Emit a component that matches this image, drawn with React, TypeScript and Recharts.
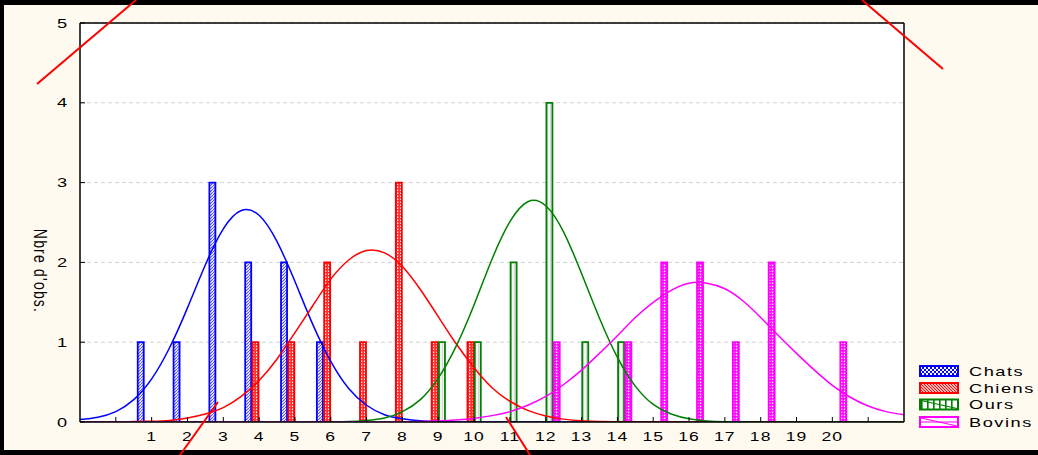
import React from "react";
import { Bar, CartesianGrid, ComposedChart, Legend, Line, XAxis, YAxis } from "recharts";

const FONT = "'Liberation Sans', Arial, Helvetica, sans-serif";

// histogram bins (x = 1..20)
const binX = [1, 2, 3, 4, 5, 6, 7, 8, 9, 10, 11, 12, 13, 14, 15, 16, 17, 18, 19, 20];
const chats = [1, 1, 3, 2, 2, 1, 0, 0, 0, 0, 0, 0, 0, 0, 0, 0, 0, 0, 0, 0];
const chiens = [0, 0, 0, 1, 1, 2, 1, 3, 1, 1, 0, 0, 0, 0, 0, 0, 0, 0, 0, 0];
const ours = [0, 0, 0, 0, 0, 0, 0, 0, 1, 1, 2, 4, 1, 1, 0, 0, 0, 0, 0, 0];
const bovins = [0, 0, 0, 0, 0, 0, 0, 0, 0, 0, 0, 1, 0, 1, 2, 2, 1, 2, 0, 1];

// fitted curves, every half unit from -1 to 22
const curveX = [
  -1, -0.5, 0, 0.5, 1, 1.5, 2, 2.5, 3, 3.5, 4, 4.5, 5, 5.5, 6, 6.5, 7, 7.5, 8, 8.5, 9, 9.5, 10, 10.5,
  11, 11.5, 12, 12.5, 13, 13.5, 14, 14.5, 15, 15.5, 16, 16.5, 17, 17.5, 18, 18.5, 19, 19.5, 20, 20.5,
  21, 21.5, 22,
];
const chatsCurve = [
  0.03, 0.06, 0.13, 0.28, 0.54, 0.93, 1.43, 1.97, 2.42, 2.65, 2.59, 2.26, 1.76, 1.22, 0.76, 0.42, 0.21,
  0.09, 0.04, 0.015, 0.005, 0, 0, 0, 0, 0, 0, 0, 0, 0, 0, 0, 0, 0, 0, 0, 0, 0, 0, 0, 0, 0, 0, 0, 0, 0, 0,
];
const chiensCurve = [
  0, 0, 0, 0.005, 0.01, 0.02, 0.05, 0.1, 0.18, 0.32, 0.52, 0.79, 1.12, 1.46, 1.79, 2.03, 2.15, 2.12, 1.95,
  1.66, 1.32, 0.98, 0.68, 0.43, 0.26, 0.145, 0.075, 0.036, 0.016, 0.007, 0.003, 0, 0, 0, 0, 0, 0, 0, 0, 0,
  0, 0, 0, 0, 0, 0, 0,
];
const oursCurve = [
  0, 0, 0, 0, 0, 0, 0, 0, 0, 0, 0, 0, 0, 0, 0.002, 0.006, 0.02, 0.05, 0.13, 0.28, 0.55, 0.95, 1.47, 2.04,
  2.51, 2.76, 2.71, 2.38, 1.86, 1.3, 0.81, 0.45, 0.22, 0.1, 0.04, 0.014, 0.004, 0, 0, 0, 0, 0, 0, 0, 0, 0, 0,
];
const bovinsCurve = [
  0, 0, 0, 0, 0, 0, 0, 0, 0, 0, 0, 0, 0, 0, 0, 0, 0, 0, 0.003, 0.006, 0.013, 0.025, 0.045, 0.08, 0.13,
  0.21, 0.32, 0.47, 0.65, 0.86, 1.08, 1.31, 1.5, 1.65, 1.74, 1.74, 1.67, 1.52, 1.31, 1.08, 0.86, 0.65,
  0.46, 0.31, 0.2, 0.13, 0.09,
];

const xTicks = [0, 1, 2, 3, 4, 5, 6, 7, 8, 9, 10, 11, 12, 13, 14, 15, 16, 17, 18, 19, 20, 21];
const yTicks = [0, 1, 2, 3, 4, 5];

const seriesNames = ["Chats", "Chiens", "Ours", "Bovins"];
const seriesColors = ["#0000ff", "#ff0000", "#008000", "#ff00ff"];

const barRows = binX.map((x, i) => ({ x, chats: chats[i], chiens: chiens[i], ours: ours[i], bovins: bovins[i] }));
const curveRows = curveX.map((x, i) => ({
  x,
  chats: chatsCurve[i],
  chiens: chiensCurve[i],
  ours: oursCurve[i],
  bovins: bovinsCurve[i],
}));

function BottomTick(props: any) {
  const { x, y, payload } = props;
  const v = payload.value;
  if (v < 1 || v > 20) return <g />;
  return (
    <text
      transform={`translate(${x},${y}) scale(1.35,1)`}
      textAnchor="middle"
      dy="0.71em"
      fontSize={13}
      fontFamily={FONT}
      letterSpacing={0.8}
      fill="#000"
    >
      {v}
    </text>
  );
}

function LeftTick(props: any) {
  const { x, y, payload } = props;
  return (
    <text
      transform={`translate(${x},${y}) scale(1.4,1)`}
      textAnchor="end"
      dy="0.36em"
      fontSize={13}
      fontFamily={FONT}
      fill="#000"
    >
      {payload.value}
    </text>
  );
}

function YTitle() {
  return (
    <text
      transform="translate(41,271) rotate(90) scale(1,1.35)"
      textAnchor="middle"
      dy="0.36em"
      fontSize={14}
      fontFamily={FONT}
      letterSpacing={1.2}
      fill="#000"
    >
      Nbre d'obs.
    </text>
  );
}

function LegendBox() {
  const rows = [11, 28, 44.5, 62];
  return (
    <svg width={123} height={75} style={{ display: "block", overflow: "visible" }}>
      <defs>
        <pattern id="lg0" width="4" height="4" patternUnits="userSpaceOnUse">
          <rect width="4" height="4" fill="#fff" />
          <path d="M0,4 L4,0 M-1,1 L1,-1 M3,5 L5,3 M0,0 L4,4" stroke="#0000ff" strokeWidth="1" />
        </pattern>
        <pattern id="lg1" width="3" height="3" patternUnits="userSpaceOnUse">
          <rect width="3" height="3" fill="#fff" />
          <path d="M0,0 L3,3 M-1,2 L1,4 M2,-1 L4,1" stroke="#ff0000" strokeWidth="1.1" />
        </pattern>
        <pattern id="lg2" width="6" height="4" patternUnits="userSpaceOnUse">
          <rect width="6" height="4" fill="#fff" />
          <rect width="1.6" height="4" fill="#008000" />
        </pattern>
        <pattern id="lg3" width="4" height="4" patternUnits="userSpaceOnUse">
          <rect width="4" height="4" fill="#fff" />
        </pattern>
      </defs>
      {seriesNames.map((n, i) => (
        <g key={n}>
          <rect
            x={5}
            y={rows[i] - 5}
            width={38}
            height={10}
            fill={`url(#lg${i})`}
            stroke={seriesColors[i]}
            strokeWidth={2}
          />
          {i >= 2 && (
            <line x1={6} y1={rows[i] - 4} x2={42} y2={rows[i] + 4} stroke={seriesColors[i]} strokeWidth={1.2} />
          )}
          {i === 3 && <line x1={6} y1={rows[i]} x2={42} y2={rows[i]} stroke={seriesColors[i]} strokeWidth={1} />}
          <text
            transform={`translate(54,${rows[i]}) scale(1.4,1)`}
            dy="0.36em"
            fontSize={13}
            fontFamily={FONT}
            letterSpacing={1.1}
            fill="#000"
          >
            {n}
          </text>
        </g>
      ))}
    </svg>
  );
}

export default function App() {
  return (
    <div style={{ position: "relative", width: 1038, height: 455, background: "#000", overflow: "hidden" }}>
      <style>{"body{margin:0}"}</style>
      <div style={{ position: "absolute", left: 4, top: 5, width: 1034, height: 445, background: "#fffaf0" }} />
      <div style={{ position: "absolute", left: 0, top: 0 }}>
        <ComposedChart
          width={1038}
          height={455}
          data={barRows}
          barSize={6}
          barGap={1.3}
          margin={{ top: 22, right: 133, bottom: 3, left: 20 }}
        >
          <defs>
            <pattern id="pChats" width="3" height="3" patternUnits="userSpaceOnUse">
              <rect width="3" height="3" fill="#ffffff" />
              <path d="M0,3 L3,0" stroke="#5050ff" strokeWidth="1.1" />
            </pattern>
            <pattern id="pChiens" width="3" height="3" patternUnits="userSpaceOnUse">
              <rect width="3" height="3" fill="#ff3030" />
              <rect x="1" y="0.5" width="1.2" height="1.5" fill="#ffffff" />
            </pattern>
            <pattern id="pOurs" width="3" height="3" patternUnits="userSpaceOnUse">
              <rect width="3" height="3" fill="#f4f4f4" />
              <rect x="1" width="1" height="3" fill="#d8d8d8" />
            </pattern>
            <pattern id="pBovins" width="3" height="3" patternUnits="userSpaceOnUse">
              <rect width="3" height="3" fill="#ff00ff" />
              <rect x="0.8" y="0.6" width="1.5" height="1.5" fill="#ffffff" />
            </pattern>
          </defs>
          <CartesianGrid vertical={false} fill="#ffffff" stroke="#d2d2d2" strokeDasharray="4 3" />
          <XAxis
            dataKey="x"
            type="number"
            domain={[-1, 22]}
            allowDataOverflow
            ticks={xTicks}
            interval={0}
            height={30}
            tickSize={-5}
            tickMargin={15}
            axisLine={{ stroke: "#000", strokeWidth: 1.5 }}
            tickLine={{ stroke: "#000" }}
            tick={BottomTick}
          />
          <XAxis
            xAxisId="top"
            orientation="top"
            dataKey="x"
            type="number"
            domain={[-1, 22]}
            allowDataOverflow
            ticks={xTicks}
            interval={0}
            height={1}
            tickSize={-5}
            axisLine={{ stroke: "#000", strokeWidth: 1.5 }}
            tickLine={{ stroke: "#000" }}
            tick={false}
          />
          <YAxis
            type="number"
            domain={[0, 5]}
            allowDataOverflow
            ticks={yTicks}
            interval={0}
            width={60}
            tickSize={-5}
            tickMargin={18}
            axisLine={{ stroke: "#000", strokeWidth: 1.5 }}
            tickLine={{ stroke: "#000" }}
            tick={LeftTick}
            label={{ content: () => <YTitle /> }}
          />
          <YAxis
            yAxisId="right"
            orientation="right"
            type="number"
            domain={[0, 5]}
            allowDataOverflow
            ticks={yTicks}
            interval={0}
            width={1}
            tickSize={-5}
            axisLine={{ stroke: "#000", strokeWidth: 1.5 }}
            tickLine={{ stroke: "#000" }}
            tick={false}
          />
          <Bar dataKey="chats" name="Chats" fill="url(#pChats)" stroke={seriesColors[0]} strokeWidth={1.8} isAnimationActive={false} />
          <Bar dataKey="chiens" name="Chiens" fill="url(#pChiens)" stroke={seriesColors[1]} strokeWidth={1.8} isAnimationActive={false} />
          <Bar dataKey="ours" name="Ours" fill="url(#pOurs)" stroke={seriesColors[2]} strokeWidth={1.8} isAnimationActive={false} />
          <Bar dataKey="bovins" name="Bovins" fill="url(#pBovins)" stroke={seriesColors[3]} strokeWidth={1.8} isAnimationActive={false} />
          <Line xAxisId="top" data={curveRows} dataKey="chats" type="natural" stroke={seriesColors[0]} strokeWidth={1.5} dot={false} legendType="none" isAnimationActive={false} />
          <Line xAxisId="top" data={curveRows} dataKey="chiens" type="natural" stroke={seriesColors[1]} strokeWidth={1.5} dot={false} legendType="none" isAnimationActive={false} />
          <Line xAxisId="top" data={curveRows} dataKey="ours" type="natural" stroke={seriesColors[2]} strokeWidth={1.5} dot={false} legendType="none" isAnimationActive={false} />
          <Line xAxisId="top" data={curveRows} dataKey="bovins" type="natural" stroke={seriesColors[3]} strokeWidth={1.5} dot={false} legendType="none" isAnimationActive={false} />
          <Legend
            layout="vertical"
            align="center"
            verticalAlign="middle"
            content={() => <LegendBox />}
            wrapperStyle={{ left: 915, top: 360, width: 123, height: 75 }}
          />
        </ComposedChart>
      </div>
      <svg
        width={1038}
        height={455}
        style={{ position: "absolute", left: 0, top: 0, pointerEvents: "none" }}
      >
        <g stroke="#ff0000" strokeWidth={2} fill="none">
          <line x1={37} y1={84} x2={136} y2={0} />
          <line x1={862} y1={0} x2={943} y2={69} />
          <line x1={180} y1={455} x2={218} y2={402} />
          <line x1={506} y1={417} x2={530} y2={455} />
        </g>
      </svg>
    </div>
  );
}
